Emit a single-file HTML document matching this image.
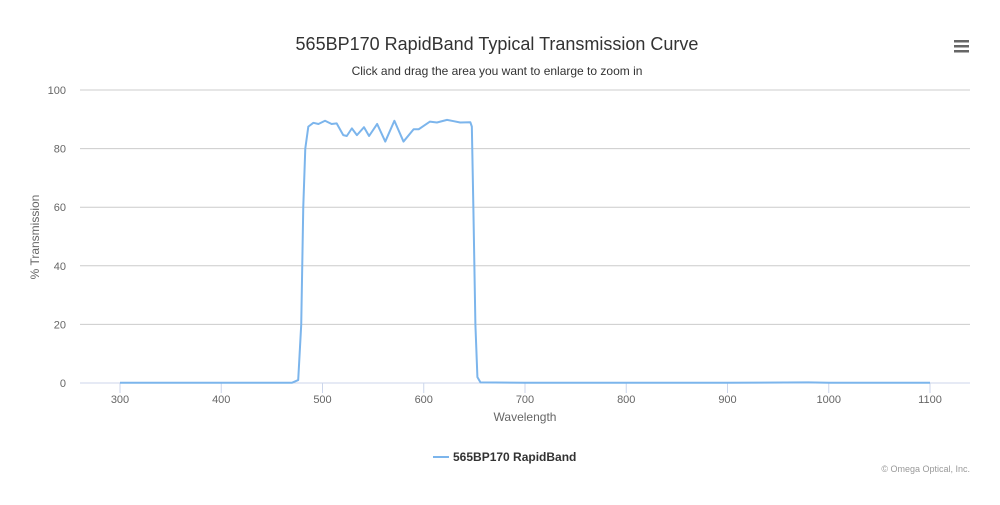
<!DOCTYPE html>
<html><head><meta charset="utf-8"><style>
body{margin:0;background:#fff;font-family:"Liberation Sans",sans-serif}
svg text{font-family:"Liberation Sans",sans-serif}
</style></head><body>
<svg width="1000" height="500" xmlns="http://www.w3.org/2000/svg">
<rect width="1000" height="500" fill="#fff"/>
<text x="497" y="50" text-anchor="middle" font-size="18" fill="#333">565BP170 RapidBand Typical Transmission Curve</text>
<text x="497" y="75" text-anchor="middle" font-size="12" fill="#333">Click and drag the area you want to enlarge to zoom in</text>
<g>
<rect x="954" y="40" width="15" height="2.5" fill="#666"/><rect x="954" y="45" width="15" height="2.5" fill="#666"/><rect x="954" y="50" width="15" height="2.5" fill="#666"/>
</g>
<g id="grid"></g><g id="xaxis"></g><g id="series"></g>
<text x="39" y="237" text-anchor="middle" font-size="12" fill="#666" transform="rotate(-90 39 237)">% Transmission</text>
<text x="525" y="421" text-anchor="middle" font-size="12" fill="#666">Wavelength</text>
<g>
<line x1="433" y1="457" x2="449" y2="457" stroke="#7cb5ec" stroke-width="2"/>
<text x="453" y="461" font-size="12" font-weight="bold" fill="#333">565BP170 RapidBand</text>
</g>
<text x="970" y="472" text-anchor="end" font-size="9" fill="#999">© Omega Optical, Inc.</text>
</svg>
<script>
const xTicks=[300,400,500,600,700,800,900,1000,1100];
const yTicks=[0,20,40,60,80,100];
const wavelengths=[300,400,470,476,479,481,483,486,491,496,502.5,509,514,520.5,524,529,534,541,546,554,562,571,580,590,595,606,613,623,629,636,646,647.5,649,651,653,656,700,800,900,980,1000,1100];
const transmission=[0.1,0.1,0.1,1,20,60,80,87.5,88.8,88.4,89.5,88.4,88.6,84.6,84.3,86.9,84.6,87.3,84.3,88.4,82.4,89.5,82.4,86.6,86.6,89.2,88.9,89.8,89.4,88.9,89,87.5,60,20,2,0.2,0.1,0.1,0.1,0.2,0.1,0.1];
const X0=80,X1=970,XMIN=260.5,XMAX=1139.5,Y0=383,Y1=90,YMAX=100;
const xs=v=>X0+(v-XMIN)/(XMAX-XMIN)*(X1-X0);
const ys=v=>Y0-v/YMAX*(Y0-Y1);
const NS="http://www.w3.org/2000/svg";
function mk(t,a,p){const e=document.createElementNS(NS,t);for(const k in a)e.setAttribute(k,a[k]);p.appendChild(e);return e;}
const grid=document.getElementById('grid');
yTicks.forEach(v=>{
 const l=mk('line',{x1:X0,x2:X1,y1:ys(v),y2:ys(v),stroke:v===0?'#ccd6eb':'#ccc','stroke-width':1},grid);
 
 
 const t=mk('text',{x:66,y:ys(v)+4,'text-anchor':'end','font-size':11,fill:'#666'},grid);
 t.textContent=v;
 
 
});
const xa=document.getElementById('xaxis');
xTicks.forEach(v=>{
 const l=mk('line',{x1:xs(v),x2:xs(v),y1:Y0,y2:Y0+10,stroke:'#ccd6eb'},xa);
 
 
 const t=mk('text',{x:xs(v),y:Y0+20,'text-anchor':'middle','font-size':11,fill:'#666'},xa);
 t.textContent=v;
 
 
});
const d=wavelengths.map((w,i)=>(i?'L':'M')+xs(w).toFixed(2)+','+ys(transmission[i]).toFixed(2)).join(' ');
const p=mk('path',{d:d,fill:'none',stroke:'#7cb5ec','stroke-width':2,'stroke-linejoin':'round'},document.getElementById('series'));


</script>
</body></html>
